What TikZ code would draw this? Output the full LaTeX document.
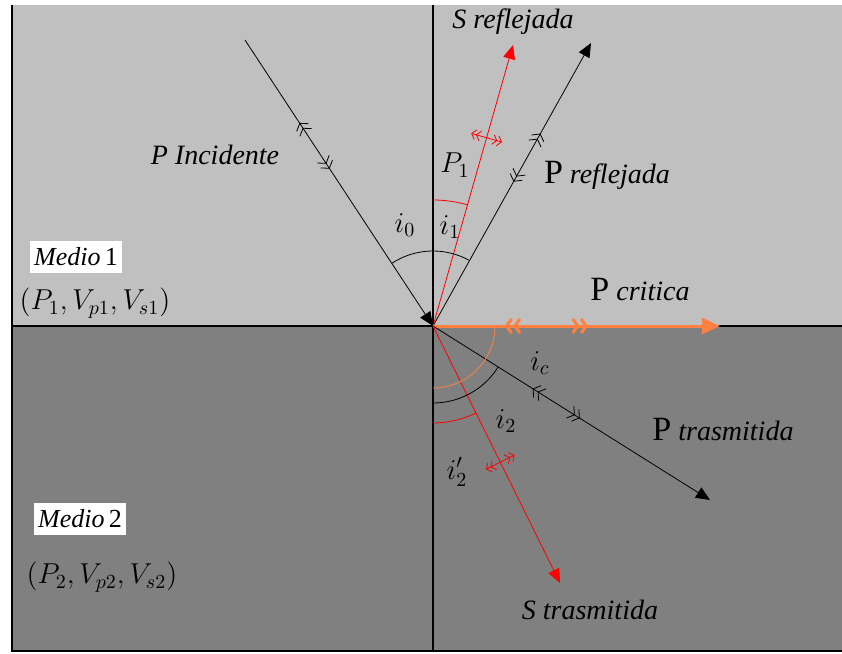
\documentclass[tikz,border=0pt]{standalone}
\usepackage{fontspec}
\setmainfont{Liberation Serif}
\usetikzlibrary{arrows.meta, decorations.markings}
\definecolor{medioA}{RGB}{192,192,192}
\definecolor{medioB}{RGB}{128,128,128}
\definecolor{critica}{RGB}{255,128,64}
\newcommand{\bigP}{{\fontsize{17}{19}\selectfont P}}
\tikzset{
  pmark/.style 2 args={postaction={decorate}, decoration={markings,
    mark=at position #1 with {\arrowreversed{Straight Barb[length=2.5pt,width=7pt] Straight Barb[length=2.5pt,width=7pt]}},
    mark=at position #2 with {\arrow{Straight Barb[length=2.5pt,width=7pt] Straight Barb[length=2.5pt,width=7pt]}}}},
  smark/.style={postaction={decorate}, decoration={markings,
    mark=at position #1 with {\draw[thin, {Straight Barb[length=2pt,width=5pt] Straight Barb[length=2pt,width=5pt]}-{Straight Barb[length=2pt,width=5pt] Straight Barb[length=2pt,width=5pt]}] (0,-8pt) -- (0,8pt);}}},
  medio/.style={fill=white, inner xsep=2pt, inner ysep=3.5pt, font=\fontsize{13}{15}\selectfont}
}
\begin{document}
\begin{tikzpicture}[x=0.5pt, y=0.5pt, >={Triangle[length=7pt,width=6pt]}, every node/.style={font=\fontsize{14}{17}\selectfont}]
  \useasboundingbox (-433,-328) rectangle (409,326);
  \fill[medioA] (-421,0) rectangle (409,321);
  \fill[medioB] (-421,-325) rectangle (409,0);
  \draw[line width=1pt] (-421,321) -- (-421,-325) -- (409,-325);
  \draw[line width=1pt] (-421,0) -- (409,0);
  \draw[line width=0.8pt] (0,321) -- (0,-325);

  \coordinate (O) at (0,0);
  \coordinate (incStart) at (-188,286);
  \coordinate (pReflEnd) at (158,283);
  \coordinate (sReflEnd) at (80,281);
  \coordinate (pCritEnd) at (287,0);
  \coordinate (pTrasEnd) at (277,-174);
  \coordinate (sTrasEnd) at (127,-257);

  \draw[->, pmark={0.29}{0.45}] (incStart) -- (O);
  \draw[->, pmark={0.51}{0.68}] (O) -- (pReflEnd);
  \draw[->, red, smark=0.67] (O) -- (sReflEnd);
  \draw[->, critica, line width=1.5pt, >={Triangle[length=9pt,width=8pt]}, pmark={0.25}{0.54}] (O) -- (pCritEnd);
  \draw[->, pmark={0.36}{0.53}] (O) -- (pTrasEnd);
  \draw[->, red, smark=0.53] (O) -- (sTrasEnd);

  \draw (O) ++(60.8:75) arc[start angle=60.8, end angle=123.3, radius=75];
  \draw[red] (O) ++(74.1:126) arc[start angle=74.1, end angle=90, radius=126];
  \draw[critica] (O) ++(0:62) arc[start angle=0, end angle=-90, radius=62];
  \draw (O) ++(-32.1:77) arc[start angle=-32.1, end angle=-90, radius=77];
  \draw[red] (O) ++(-63.7:97) arc[start angle=-63.7, end angle=-90, radius=97];

  \node (incLabel) at (-218,171) {\textit{P Incidente}};
  \node (sReflLabel) at (80,304) {\textit{S reflejada}};
  \node (pReflLabel) at (174,151) {\bigP\ \textit{reflejada}};
  \node (pCritLabel) at (207,36) {\bigP\ \textit{critica}};
  \node (pTrasLabel) at (290,-104) {\bigP\ \textit{trasmitida}};
  \node (sTrasLabel) at (157,-284) {\textit{S trasmitida}};
  \node (angI0) at (-28,101) {$i_0$};
  \node (angI1) at (17,99) {$i_1$};
  \node (angP1) at (22,161) {$P_1$};
  \node (angIc) at (107,-37) {$i_c$};
  \node (angI2) at (73,-95) {$i_2$};
  \node (angI2b) at (24,-146) {$i'_2$};
  \node[medio] (medio1) at (-357,69) {\textit{Medio}\,1};
  \node (medio1Par) at (-338,23) {$(P_1,V_{p1},V_{s1})$};
  \node[medio] (medio2) at (-353,-193) {\textit{Medio}\,2};
  \node (medio2Par) at (-331,-251) {$(P_2,V_{p2},V_{s2})$};
\end{tikzpicture}
\end{document}
